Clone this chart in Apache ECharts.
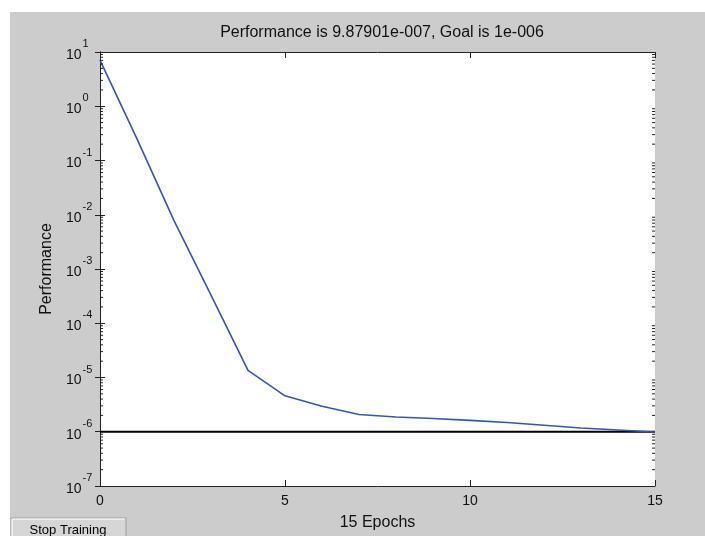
<!DOCTYPE html>
<html>
<head>
<meta charset="utf-8">
<script src="https://cdn.jsdelivr.net/npm/echarts@6/dist/echarts.min.js"></script>
<style>
    html, body { margin: 0; padding: 0; background: #fff; }
    #chart { width: 705px; height: 536px; }
</style>
</head>
<body>
<div id="chart"></div>
<script>
// training record
const epochs = [0, 1, 2, 3, 4, 5, 6, 7, 8, 9, 10, 11, 12, 13, 14, 15];
const performance = [7.1, 0.25, 7.8e-3, 3.3e-4, 1.35e-5, 4.6e-6, 2.95e-6, 2.08e-6,
    1.87e-6, 1.75e-6, 1.62e-6, 1.48e-6, 1.32e-6, 1.17e-6, 1.08e-6, 9.879e-7];
const goalEpochs = [0, 15];
const goalValues = [1e-6, 1e-6];
const xTicks = [0, 5, 10, 15];
const decades = [-7, -6, -5, -4, -3, -2, -1, 0];
const minorMultipliers = [2, 3, 4, 5, 6, 7, 8, 9];

const FONT = "'Liberation Sans', Arial, sans-serif";

const minorTicks = [];
decades.forEach(d => minorMultipliers.forEach(m => minorTicks.push([0, m * Math.pow(10, d)])));

const chart = echarts.init(document.getElementById("chart"));

const yLog = {
    type: "log",
    logBase: 10,
    min: 1e-7,
    max: 10,
    splitNumber: 8,
    splitLine: { show: false },
    axisLine: { show: true, lineStyle: { color: "#222", width: 1 } },
    axisTick: { show: true, inside: true, length: 5, lineStyle: { color: "#222" } }
};

chart.setOption({
    backgroundColor: "#fff",
    animation: false,
    title: {
        text: "Performance is 9.87901e-007, Goal is 1e-006",
        left: 377,
        top: 20,
        textAlign: "center",
        textStyle: { fontFamily: FONT, fontSize: 16, fontWeight: "normal", color: "#111" }
    },
    graphic: [
        { type: "rect", z: -10, shape: { x: 10, y: 12, width: 695, height: 524 }, style: { fill: "#cccccc" } },
        { type: "rect", shape: { x: 11, y: 518, width: 115, height: 24 }, style: { fill: "#d6d6d6", stroke: "#a0a0a0", lineWidth: 1 } },
        { type: "polyline", shape: { points: [[12, 536], [12, 519], [125, 519]] }, style: { stroke: "#fff", lineWidth: 1, fill: null } },
        {
            type: "text",
            style: { x: 68, y: 530, text: "Stop Training", align: "center", verticalAlign: "middle", font: "13px " + FONT, fill: "#000" }
        }
    ],
    grid: { left: 100, right: 50, top: 52, bottom: 47, show: true, backgroundColor: "#fff", borderWidth: 0 },
    xAxis: [
        {
            type: "value",
            min: 0,
            max: 15,
            interval: 5,
            name: "15 Epochs",
            nameLocation: "middle",
            nameGap: 29,
            nameTextStyle: { fontFamily: FONT, fontSize: 16, color: "#111" },
            splitLine: { show: false },
            axisLine: { show: true, lineStyle: { color: "#222", width: 1 } },
            axisTick: { inside: true, length: 6, lineStyle: { color: "#222" } },
            axisLabel: {
                margin: 8,
                fontFamily: FONT,
                fontSize: 14,
                color: "#111",
                formatter: v => (xTicks.indexOf(v) >= 0 ? String(v) : "")
            }
        },
        {
            type: "value",
            position: "top",
            min: 0,
            max: 15,
            interval: 5,
            splitLine: { show: false },
            axisLine: { show: true, lineStyle: { color: "#222", width: 1 } },
            axisTick: { inside: true, length: 6, lineStyle: { color: "#222" } },
            axisLabel: { show: false }
        }
    ],
    yAxis: [
        Object.assign({}, yLog, {
            name: "Performance",
            nameLocation: "middle",
            nameGap: 45,
            nameTextStyle: { fontFamily: FONT, fontSize: 16, color: "#111" },
            axisLabel: {
                align: "left",
                margin: 34,
                formatter: v => "{b|10}{s|" + Math.round(Math.log10(v)) + "}",
                rich: {
                    b: { fontFamily: FONT, fontSize: 14, color: "#111", padding: [6, 0, 0, 0] },
                    s: { fontFamily: FONT, fontSize: 11, color: "#111", padding: [0, 0, 16, 1] }
                }
            }
        }),
        Object.assign({}, yLog, { position: "right", axisLabel: { show: false } })
    ],
    series: [
        {
            name: "Goal",
            type: "line",
            data: goalEpochs.map((e, i) => [e, goalValues[i]]),
            symbol: "none",
            lineStyle: { color: "#000", width: 2 },
            silent: true,
            z: 2
        },
        {
            name: "Performance",
            type: "line",
            data: epochs.map((e, i) => [e, performance[i]]),
            symbol: "none",
            lineStyle: { color: "#3556b0", width: 1.6 },
            silent: true,
            z: 3
        },
        {
            // minor log ticks on left and right edges
            type: "custom",
            data: minorTicks,
            silent: true,
            z: 4,
            renderItem: (params, api) => {
                const left = api.coord([0, api.value(1)]);
                const right = api.coord([15, api.value(1)]);
                const style = { stroke: "#222", lineWidth: 1 };
                return {
                    type: "group",
                    children: [
                        { type: "line", shape: { x1: left[0], y1: left[1], x2: left[0] + 3, y2: left[1] }, style },
                        { type: "line", shape: { x1: right[0], y1: right[1], x2: right[0] - 3, y2: right[1] }, style }
                    ]
                };
            }
        }
    ]
});
</script>
</body>
</html>
